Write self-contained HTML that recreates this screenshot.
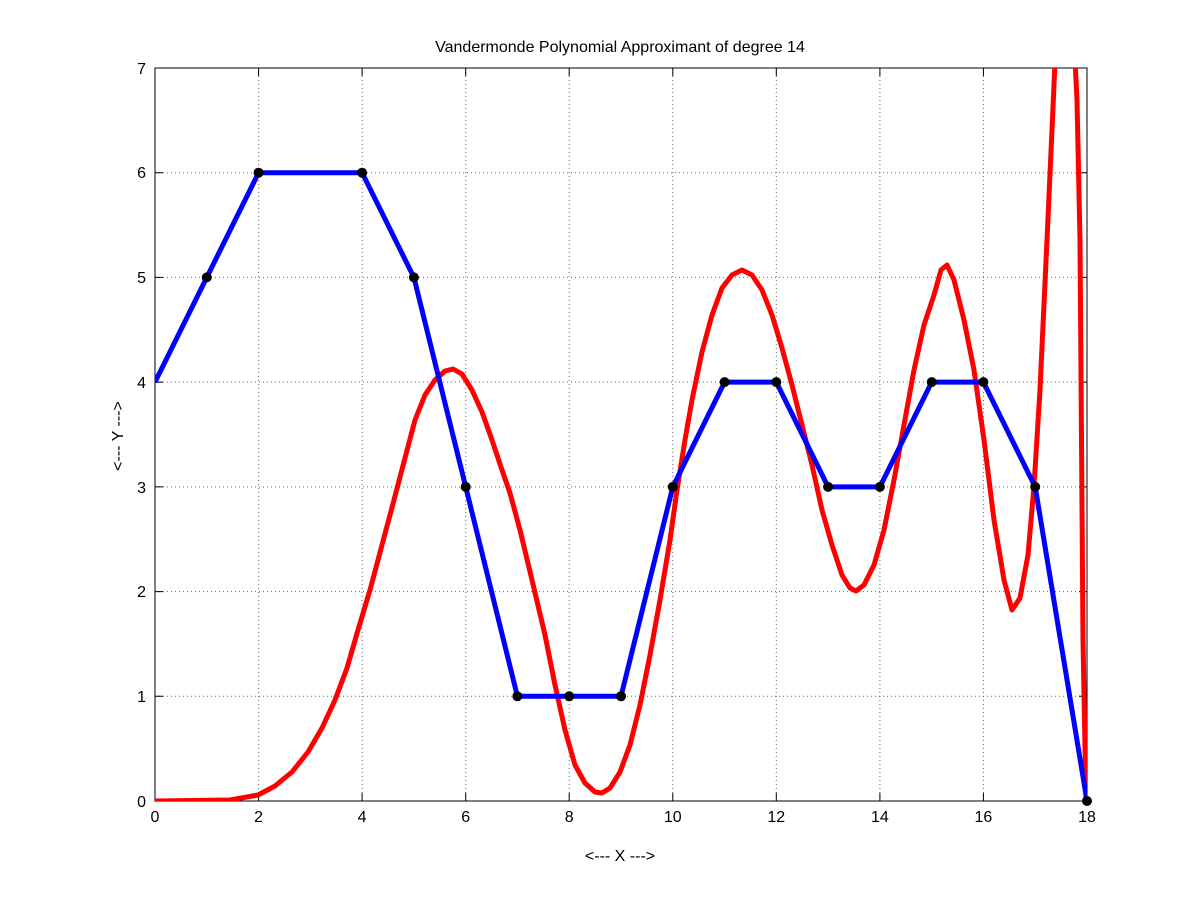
<!DOCTYPE html>
<html><head><style>body{margin:0;background:#fff}svg{display:block}text{font-family:"Liberation Sans",sans-serif;font-size:16px;fill:#000}</style></head><body>
<svg width="1200" height="901" viewBox="0 0 1200 901">
<defs><clipPath id="c"><rect x="155" y="68" width="932" height="733"/></clipPath></defs>
<rect width="1200" height="901" fill="#fff"/>
<g stroke="#000" stroke-width="1" stroke-dasharray="1,3" opacity="0.6">
<line x1="258.6" y1="68" x2="258.6" y2="801"/><line x1="362.1" y1="68" x2="362.1" y2="801"/><line x1="465.7" y1="68" x2="465.7" y2="801"/><line x1="569.2" y1="68" x2="569.2" y2="801"/><line x1="672.8" y1="68" x2="672.8" y2="801"/><line x1="776.3" y1="68" x2="776.3" y2="801"/><line x1="879.9" y1="68" x2="879.9" y2="801"/><line x1="983.4" y1="68" x2="983.4" y2="801"/>
<line x1="155" y1="696.3" x2="1087" y2="696.3"/><line x1="155" y1="591.6" x2="1087" y2="591.6"/><line x1="155" y1="486.9" x2="1087" y2="486.9"/><line x1="155" y1="382.1" x2="1087" y2="382.1"/><line x1="155" y1="277.4" x2="1087" y2="277.4"/><line x1="155" y1="172.7" x2="1087" y2="172.7"/>
</g>
<rect x="155" y="68" width="932" height="733" fill="none" stroke="#000" stroke-width="1"/>
<g stroke="#000"><path d="M258.6 801v-8M362.1 801v-8M465.7 801v-8M569.2 801v-8M672.8 801v-8M776.3 801v-8M879.9 801v-8M983.4 801v-8M258.6 68v8M362.1 68v8M465.7 68v8M569.2 68v8M672.8 68v8M776.3 68v8M879.9 68v8M983.4 68v8M155 696.3h8M155 591.6h8M155 486.9h8M155 382.1h8M155 277.4h8M155 172.7h8M1087 696.3h-8M1087 591.6h-8M1087 486.9h-8M1087 382.1h-8M1087 277.4h-8M1087 172.7h-8"/></g>
<g text-anchor="middle">
<text x="155" y="822">0</text><text x="258.6" y="822">2</text><text x="362.1" y="822">4</text><text x="465.7" y="822">6</text><text x="569.2" y="822">8</text><text x="672.8" y="822">10</text><text x="776.3" y="822">12</text><text x="879.9" y="822">14</text><text x="983.4" y="822">16</text><text x="1087" y="822">18</text>
<text x="620" y="52">Vandermonde Polynomial Approximant of degree 14</text>
<text x="620" y="861">&lt;--- X ---&gt;</text>
<text x="0" y="0" transform="translate(123,436) rotate(-90)">&lt;--- Y ---&gt;</text>
</g>
<g text-anchor="end">
<text x="146" y="807">0</text><text x="146" y="702">1</text><text x="146" y="597">2</text><text x="146" y="493">3</text><text x="146" y="388">4</text><text x="146" y="283">5</text><text x="146" y="178">6</text><text x="146" y="74">7</text>
</g>
<g clip-path="url(#c)">
<polyline fill="none" stroke="#f00" stroke-width="5" stroke-linejoin="round" points="155,801 230,800 258,795 275,786 292,772 308,752 322,728 335,700 347,668 358,630 370,590 382,545 394,500 405,458 415,420 425,395 435,380 445,371 453,369 462,374 472,390 482,412 492,440 502,470 510,493 520,530 532,580 545,635 555,685 565,730 575,765 585,783 595,792 602,793 610,788 620,772 630,745 640,705 650,655 660,600 670,540 677,490 685,440 692,400 702,352 712,315 722,288 732,275 742,270 752,275 762,290 772,315 782,348 792,385 802,425 812,465 822,510 832,545 842,575 850,588 856,591 864,585 874,565 884,530 894,480 904,425 914,370 924,325 934,295 941,270 947,265 954,280 964,320 974,370 984,440 994,520 1004,580 1012,610 1020,598 1028,555 1034,486 1040,390 1047,240 1052,130 1056,40 1074,40 1077,100 1080,240 1083,640 1086,801"/>
<polyline fill="none" stroke="#00f" stroke-width="5" stroke-linejoin="round" points="155,382.1 206.8,277.4 258.6,172.7 362.1,172.7 413.9,277.4 465.7,486.9 517.4,696.3 569.2,696.3 621,696.3 672.8,486.9 724.6,382.1 776.3,382.1 828.1,486.9 879.9,486.9 931.7,382.1 983.4,382.1 1035.2,486.9 1087,801"/>
</g>
<g fill="#000">
<circle cx="206.8" cy="277.4" r="5"/><circle cx="258.6" cy="172.7" r="5"/><circle cx="362.1" cy="172.7" r="5"/><circle cx="413.9" cy="277.4" r="5"/><circle cx="465.7" cy="486.9" r="5"/><circle cx="517.4" cy="696.3" r="5"/><circle cx="569.2" cy="696.3" r="5"/><circle cx="621" cy="696.3" r="5"/><circle cx="672.8" cy="486.9" r="5"/><circle cx="724.6" cy="382.1" r="5"/><circle cx="776.3" cy="382.1" r="5"/><circle cx="828.1" cy="486.9" r="5"/><circle cx="879.9" cy="486.9" r="5"/><circle cx="931.7" cy="382.1" r="5"/><circle cx="983.4" cy="382.1" r="5"/><circle cx="1035.2" cy="486.9" r="5"/><circle cx="1087" cy="801" r="5"/>
</g>
</svg>
</body></html>
